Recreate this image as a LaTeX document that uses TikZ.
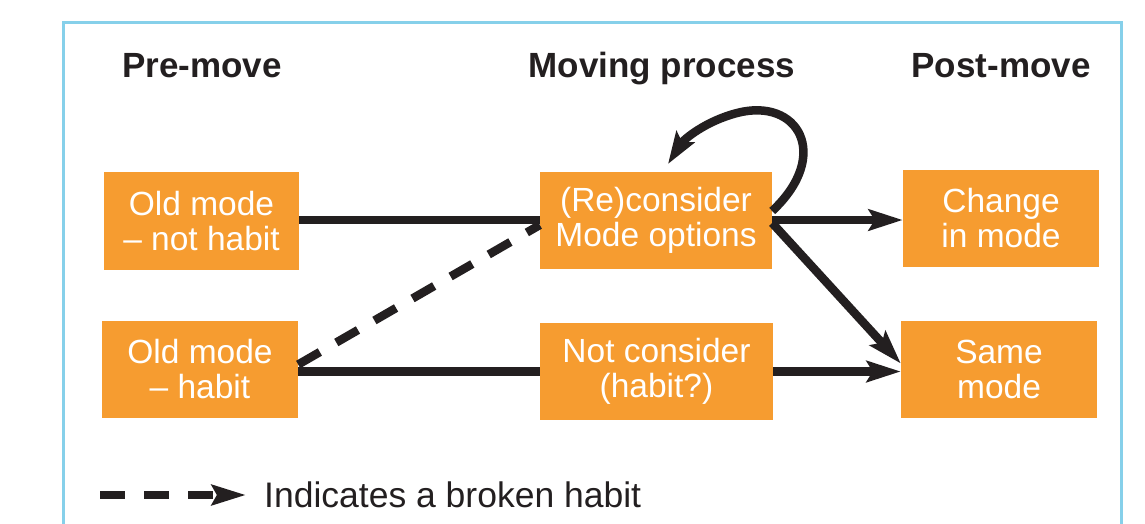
\documentclass[tikz,border=0pt]{standalone}
\usepackage{fontspec}
\setmainfont{Liberation Sans}
\usetikzlibrary{arrows.meta,calc}
\definecolor{boxorange}{HTML}{F69C30}
\definecolor{frameblue}{HTML}{86D0EA}
\definecolor{ink}{HTML}{231F20}
\begin{document}
\begin{tikzpicture}[x=1pt,y=-1pt,
  modebox/.style={fill=boxorange, text=white, align=center, inner sep=0pt,
    font=\fontsize{33.5}{35}\selectfont, minimum width=196pt, minimum height=97pt},
  header/.style={font=\fontsize{35}{40}\selectfont\bfseries, text=ink, anchor=base, inner sep=0pt},
  link/.style={draw=ink, line width=8.5pt},
  arrowlink/.style={link, -{Stealth[length=34pt,width=21pt,inset=6pt]}},
  brokenlink/.style={link, dash pattern=on 25pt off 19pt},
]
\useasboundingbox (0,0) rectangle (1145,523);
\draw[frameblue, line width=3pt] (63,600) -- (63,22) -- (1121,22) -- (1121,600);

\node[header] (hpre) at (202,77) {Pre-move};
\node[header] (hmov) at (662,77) {Moving process};
\node[header] (hpost) at (1001,77) {Post-move};

\node[modebox, minimum width=195pt, minimum height=98pt] (old1) at (201.5,221) {Old mode\\– not habit};
\node[modebox] (old2) at (200,369.5) {Old mode\\– habit};
\node[modebox, minimum width=232pt] (recon) at (656,220) {(Re)consider\\Mode options};
\node[modebox, minimum width=233pt] (notcon) at (656.5,371.5) {Not consider\\(habit?)};
\node[modebox] (change) at (1001,218.5) {Change\\in mode};
\node[modebox] (same) at (999,369.5) {Same\\mode};

\draw[link] (old1.east |- recon.west) -- (recon.west);
\draw[link] (old2.east |- notcon.west) -- (notcon.west);
\draw[brokenlink] ([yshift=5pt]old2.east) -- ([yshift=-5pt]recon.west);
\draw[arrowlink] (recon.east) -- (change.west |- recon.east);
\draw[arrowlink] ([yshift=-3pt]recon.east) -- ([yshift=6pt]same.west);
\draw[arrowlink] (notcon.east) -- (same.west |- notcon.east);
\draw[link, -{Stealth[length=32pt,width=21pt,inset=6pt]}]
  ([yshift=9pt]recon.east) .. controls (832,155) and (798,97) .. (737,113)
  .. controls (706,121) and (684,139) .. (668,164);

\coordinate (legA) at (100,495);
\coordinate (legB) at (246,495);
\draw[brokenlink, -{Stealth[length=34pt,width=20pt,inset=5pt]}] (legA) -- (legB);
\node[anchor=base west, inner sep=0pt, text=ink, font=\fontsize{35.5}{38}\selectfont] (legtext) at (264,507) {Indicates a broken habit};
\end{tikzpicture}
\end{document}
